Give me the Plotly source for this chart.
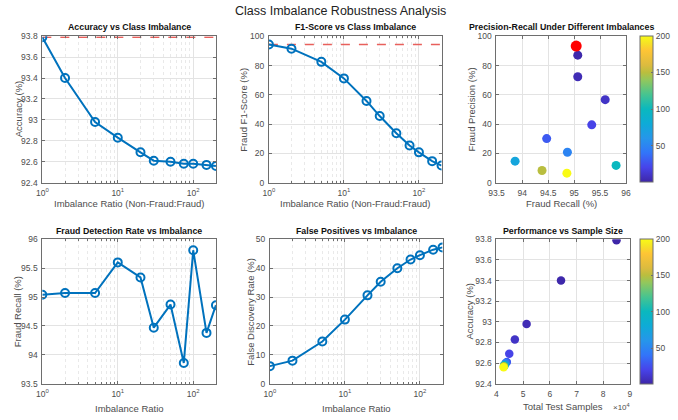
import math
import plotly.graph_objects as go

ratios = [1, 2, 5, 10, 20, 30, 50, 75, 100, 150, 200]
accuracy = [93.79, 93.40, 92.98, 92.83, 92.69, 92.61, 92.60, 92.58, 92.58, 92.57, 92.56]
f1_score = [94.4, 91.5, 82.5, 71.2, 55.8, 45.5, 33.7, 25.4, 20.7, 14.7, 11.7]
recall = [95.04, 95.07, 95.07, 95.60, 95.34, 94.47, 94.87, 93.86, 95.81, 94.38, 94.86]
precision = [93.3, 87.1, 72.3, 56.7, 39.5, 30.1, 20.8, 14.7, 11.8, 8.3, 6.5]
fdr = [6.1, 8.0, 14.6, 22.2, 30.6, 35.3, 40.0, 43.0, 44.5, 46.4, 47.2]
total_samples = [85000, 64200, 51300, 46900, 44800, 43900, 43400, 43100, 42900, 42800, 42700]

log_tickvals = [1, 10, 100]
log_ticktext = ["10<sup>0</sup>", "10<sup>1</sup>", "10<sup>2</sup>"]
samp_tickvals = [40000, 50000, 60000, 70000, 80000, 90000]
samp_ticktext = ["4", "5", "6", "7", "8", "9"]
cbar_ticks = [50, 100, 150, 200]

W, H = 678, 420
BLUE = "#0072BD"
RED_DASH = "#e8605c"
AX = "#6e6e6e"
GRID = "#e3e3e3"
TXT = "#4d4d4d"
FONT = "Liberation Sans, Arial, sans-serif"

parula = [
    [0.0, "rgb(62,38,168)"], [0.1, "rgb(71,68,234)"], [0.2, "rgb(50,117,249)"],
    [0.3, "rgb(38,150,234)"], [0.4, "rgb(14,171,215)"], [0.5, "rgb(10,184,190)"],
    [0.6, "rgb(71,196,144)"], [0.7, "rgb(147,199,92)"], [0.75, "rgb(186,190,62)"],
    [0.8, "rgb(220,187,63)"], [0.9, "rgb(254,197,53)"], [0.95, "rgb(246,226,38)"],
    [1.0, "rgb(249,251,21)"],
]

def xd(a, b):
    return [a / W, b / W]

def yd(t, b):
    return [1 - b / H, 1 - t / H]

boxes = {
    1: (35, 212, 32, 182),
    2: (266, 442, 32, 182),
    3: (498, 630, 32, 182),
    4: (35, 212, 240, 388),
    5: (267, 443, 240, 388),
    6: (498, 634, 240, 388),
}

fig = go.Figure()

def line_trace(i, y):
    fig.add_trace(go.Scatter(
        x=ratios, y=y, mode="lines+markers",
        line=dict(color=BLUE, width=2),
        marker=dict(symbol="circle-open", size=8, color=BLUE, line=dict(width=2, color=BLUE)),
        xaxis=f"x{i}", yaxis=f"y{i}", showlegend=False))

fig.add_trace(go.Scatter(x=[ratios[0], ratios[-1]], y=[accuracy[0], accuracy[0]], mode="lines",
                         line=dict(color=RED_DASH, width=1.6, dash="dash"),
                         xaxis="x1", yaxis="y1", showlegend=False))
line_trace(1, accuracy)
fig.add_trace(go.Scatter(x=[ratios[0], ratios[-1]], y=[f1_score[0], f1_score[0]], mode="lines",
                         line=dict(color=RED_DASH, width=1.6, dash="dash"),
                         xaxis="x2", yaxis="y2", showlegend=False))
line_trace(2, f1_score)
line_trace(4, recall)
line_trace(5, fdr)

def cbar(top, bot):
    return dict(x=644 / W, xanchor="left", xpad=0, ypad=0, y=1 - bot / H, yanchor="bottom",
                len=(bot - top) / H, lenmode="fraction", thickness=13,
                outlinecolor=AX, outlinewidth=1, tickvals=cbar_ticks,
                tickfont=dict(size=8.5, color=TXT, family=FONT), ticks="inside", ticklen=2,
                tickcolor=AX)

fig.add_trace(go.Scatter(
    x=recall, y=precision, mode="markers",
    marker=dict(size=9, color=ratios, colorscale=parula, cmin=1, cmax=200,
                colorbar=cbar(31, 181), showscale=True, line=dict(width=0)),
    xaxis="x3", yaxis="y3", showlegend=False))
fig.add_trace(go.Scatter(
    x=[recall[0]], y=[precision[0]], mode="markers",
    marker=dict(size=11, color="#ff0000", line=dict(width=0)),
    xaxis="x3", yaxis="y3", showlegend=False))
fig.add_trace(go.Scatter(
    x=total_samples, y=accuracy, mode="markers",
    marker=dict(size=8.5, color=ratios, colorscale=parula, cmin=1, cmax=200,
                colorbar=cbar(239, 388), showscale=True, line=dict(width=0)),
    xaxis="x6", yaxis="y6", showlegend=False))

def axis_common():
    return dict(showline=True, mirror="ticks", linecolor=AX, linewidth=1,
                ticks="inside", ticklen=3, tickcolor=AX, showgrid=True, gridcolor=GRID,
                zeroline=False, tickfont=dict(size=8.5, color=TXT, family=FONT))

layout = dict(
    width=W, height=H, margin=dict(l=0, r=0, t=0, b=0),
    paper_bgcolor="white", plot_bgcolor="white",
    font=dict(family=FONT, color=TXT),
)

xcfg = {
    1: dict(type="log", range=[0, math.log10(200)], tickvals=log_tickvals, ticktext=log_ticktext),
    2: dict(type="log", range=[0, math.log10(200)], tickvals=log_tickvals, ticktext=log_ticktext),
    3: dict(range=[93.5, 96], dtick=0.5),
    4: dict(type="log", range=[0, math.log10(200)], tickvals=log_tickvals, ticktext=log_ticktext),
    5: dict(type="log", range=[0, math.log10(200)], tickvals=log_tickvals, ticktext=log_ticktext),
    6: dict(range=[40000, 90000], tickvals=samp_tickvals, ticktext=samp_ticktext),
}
ycfg = {
    1: dict(range=[92.4, 93.8], dtick=0.2),
    2: dict(range=[0, 100], dtick=20),
    3: dict(range=[0, 100], dtick=20),
    4: dict(range=[93.5, 96], dtick=0.5),
    5: dict(range=[0, 50], dtick=10),
    6: dict(range=[92.4, 93.8], dtick=0.2),
}
xtitles = {
    1: ("Imbalance Ratio (Non-Fraud:Fraud)", 203),
    2: ("Imbalance Ratio (Non-Fraud:Fraud)", 203),
    3: ("Fraud Recall (%)", 203),
    4: ("Imbalance Ratio", 413),
    5: ("Imbalance Ratio", 413),
    6: ("Total Test Samples", 411),
}
ytitles = {
    1: ("Accuracy (%)", 11),
    2: ("Fraud F1-Score (%)", 240),
    3: ("Fraud Precision (%)", 473),
    4: ("Fraud Recall (%)", 10),
    5: ("False Discovery Rate (%)", 247),
    6: ("Accuracy (%)", 471),
}

for i, (x0, x1, y0, y1) in boxes.items():
    xa = axis_common()
    xa.update(xcfg[i])
    xa.update(domain=xd(x0, x1), anchor=f"y{i}", ticklabelstandoff=2)
    if xcfg[i].get("type") == "log":
        xa["minor"] = dict(showgrid=True, gridcolor="#e9e9e9", griddash="dot", ticks="inside",
                           ticklen=2, tickcolor=AX, dtick="D1")
    ya = axis_common()
    ya.update(ycfg[i])
    ya.update(domain=yd(y0, y1), anchor=f"x{i}", ticklabelstandoff=2)
    layout["xaxis" if i == 1 else f"xaxis{i}"] = xa
    layout["yaxis" if i == 1 else f"yaxis{i}"] = ya

titles = {
    1: "Accuracy vs Class Imbalance",
    2: "F1-Score vs Class Imbalance",
    3: "Precision-Recall Under Different Imbalances",
    4: "Fraud Detection Rate vs Imbalance",
    5: "False Positives vs Imbalance",
    6: "Performance vs Sample Size",
}
ann = []
for i, (x0, x1, y0, y1) in boxes.items():
    ann.append(dict(text=f"<b>{titles[i]}</b>", x=(x0 + x1) / 2 / W, y=1 - (y0 - 9) / H,
                    xref="paper", yref="paper", xanchor="center", yanchor="middle",
                    showarrow=False, font=dict(size=8.8, color="#111111", family=FONT)))
    t, yy = xtitles[i]
    ann.append(dict(text=t, x=(x0 + x1) / 2 / W, y=1 - yy / H, xref="paper", yref="paper",
                    xanchor="center", yanchor="middle", showarrow=False,
                    font=dict(size=9.5, color=TXT, family=FONT)))
    t, xx = ytitles[i]
    ann.append(dict(text=t, x=xx / W, y=1 - (y0 + y1) / 2 / H, xref="paper", yref="paper",
                    xanchor="center", yanchor="middle", textangle=-90, showarrow=False,
                    font=dict(size=9.5, color=TXT, family=FONT)))
ann.append(dict(text="Class Imbalance Robustness Analysis", x=0.5, y=1 - 6 / H, xref="paper",
                yref="paper", xanchor="center", yanchor="middle", showarrow=False,
                font=dict(size=12.5, color="#222222", family=FONT)))
ann.append(dict(text="\u00d710<sup>4</sup>", x=636 / W, y=1 - 412 / H, xref="paper", yref="paper",
                xanchor="right", yanchor="middle", showarrow=False,
                font=dict(size=8, color=TXT, family=FONT)))
layout["annotations"] = ann

fig.update_layout(**layout)
fig.write_html("out.html")
